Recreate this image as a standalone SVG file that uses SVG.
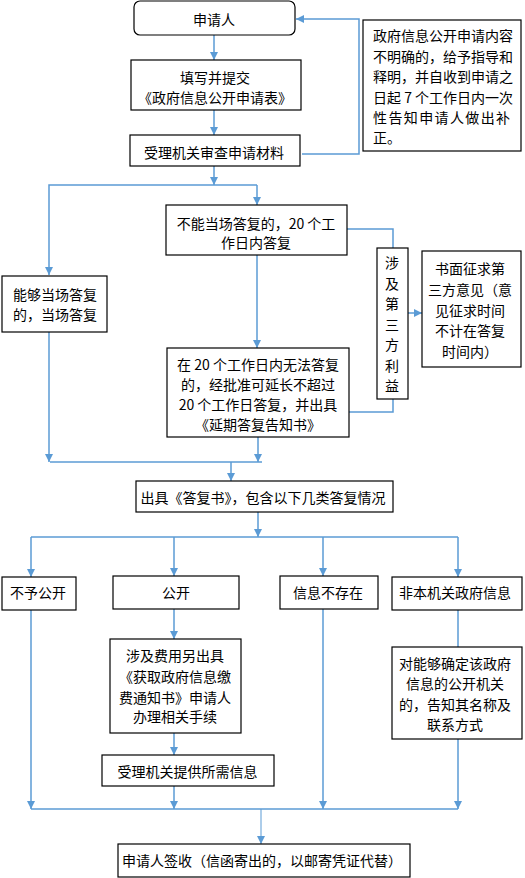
<svg xmlns="http://www.w3.org/2000/svg" width="525" height="878" viewBox="0 0 525 878">
<style>
.box{fill:#fff;stroke:#000;stroke-width:1.2}
text{font-family:"Noto Sans CJK SC","Noto Sans",sans-serif;font-size:14px;fill:#000;dominant-baseline:central}
.c{text-anchor:middle}
.ln{fill:none;stroke:#5b9bd5;stroke-width:1.5}
.thin{stroke-width:1}
</style>
<defs>
<marker id="ah" markerUnits="userSpaceOnUse" markerWidth="8" markerHeight="8" refX="8" refY="4" orient="auto">
<path d="M0,0 L8,4 L0,8 z" fill="#5b9bd5"/>
</marker>
</defs>
<rect width="525" height="878" fill="#fff"/>
<g id="connectors">
<path class="ln" d="M214,35 V60" marker-end="url(#ah)"/>
<path class="ln" d="M214,110 V135" marker-end="url(#ah)"/>
<path class="ln" d="M302,154 H359 V19 H296" marker-end="url(#ah)"/>
<path class="ln" d="M214,166 V185" marker-end="url(#ah)"/>
<path class="ln" d="M257,185 H49 V275" marker-end="url(#ah)"/>
<path class="ln" d="M257,185 V205" marker-end="url(#ah)"/>
<path class="ln" d="M347,229 H393 V248"/>
<path class="ln" d="M408,313 H422" marker-end="url(#ah)"/>
<path class="ln" d="M257,255 V348" marker-end="url(#ah)"/>
<path class="ln" d="M393,399 V412 H349"/>
<path class="ln" d="M49,332 V462" marker-end="url(#ah)"/>
<path class="ln" d="M258,437 V462" marker-end="url(#ah)"/>
<path class="ln" d="M50,462 H262"/>
<path class="ln" d="M231,462 V481" marker-end="url(#ah)"/>
<path class="ln" d="M258,512 V537" marker-end="url(#ah)"/>
<path class="ln" d="M31,537 H458"/>
<path class="ln" d="M31,537 V577" marker-end="url(#ah)"/>
<path class="ln" d="M174,537 V576" marker-end="url(#ah)"/>
<path class="ln" d="M323,537 V576" marker-end="url(#ah)"/>
<path class="ln" d="M458,537 V577" marker-end="url(#ah)"/>
<path class="ln" d="M174,609 V639" marker-end="url(#ah)"/>
<path class="ln" d="M174,733 V755" marker-end="url(#ah)"/>
<path class="ln" d="M174,786 V809" marker-end="url(#ah)"/>
<path class="ln" d="M31,610 V809" marker-end="url(#ah)"/>
<path class="ln" d="M323,609 V809" marker-end="url(#ah)"/>
<path class="ln" d="M458,610 V647"/>
<path class="ln" d="M458,739 V809" marker-end="url(#ah)"/>
<path class="ln" d="M31,809 H458"/>
<path class="ln thin" d="M261,809 V844" marker-end="url(#ah)"/>
</g>
<g id="n-applicant">
<rect class="box" x="134" y="1" width="161" height="34" rx="6"/>
<text class="c" x="214" y="19">申请人</text>
</g>
<g id="n-fill">
<rect class="box" x="131" y="60" width="170" height="50"/>
<text class="c" x="215" y="77">填写并提交</text>
<text class="c" x="215" y="97">《政府信息公开申请表》</text>
</g>
<g id="n-review">
<rect class="box" x="130" y="135" width="170" height="31"/>
<text class="c" x="214" y="152">受理机关审查申请材料</text>
</g>
<g id="n-note">
<rect class="box" x="363" y="20" width="158" height="131"/>
<text x="373" y="35">政府信息公开申请内容</text>
<text x="373" y="55.5">不明确的，给予指导和</text>
<text x="373" y="76">释明，并自收到申请之</text>
<text x="373" y="96.5">日起 7 个工作日内一次</text>
<text x="373" y="117" textLength="137" lengthAdjust="spacing">性告知申请人做出补</text>
<text x="373" y="137">正。</text>
</g>
<g id="n-cannot">
<rect class="box" x="166" y="205" width="181" height="50"/>
<text class="c" x="256" y="223">不能当场答复的，20 个工</text>
<text class="c" x="256" y="242">作日内答复</text>
</g>
<g id="n-third">
<rect class="box" x="377" y="248" width="31" height="151"/>
<text class="c" x="392" y="262">涉</text>
<text class="c" x="392" y="282.5">及</text>
<text class="c" x="392" y="303">第</text>
<text class="c" x="392" y="323.5">三</text>
<text class="c" x="392" y="344">方</text>
<text class="c" x="392" y="364.5">利</text>
<text class="c" x="392" y="385">益</text>
</g>
<g id="n-written">
<rect class="box" x="422" y="251" width="99" height="116"/>
<text class="c" x="470" y="268">书面征求第</text>
<text class="c" x="470" y="289">三方意见（意</text>
<text class="c" x="470" y="309.5">见征求时间</text>
<text class="c" x="470" y="330">不计在答复</text>
<text class="c" x="470" y="350.5">时间内）</text>
</g>
<g id="n-can">
<rect class="box" x="2" y="276" width="105" height="56"/>
<text x="13" y="294">能够当场答复</text>
<text x="13" y="313.5">的，当场答复</text>
</g>
<g id="n-extend">
<rect class="box" x="167" y="348" width="182" height="89"/>
<text class="c" x="258" y="363.5">在 20 个工作日内无法答复</text>
<text class="c" x="258" y="384">的，经批准可延长不超过</text>
<text class="c" x="258" y="404">20 个工作日答复，并出具</text>
<text class="c" x="258" y="424">《延期答复告知书》</text>
</g>
<g id="n-reply">
<rect class="box" x="136" y="481" width="257" height="31"/>
<text class="c" x="263" y="497">出具《答复书》，包含以下几类答复情况</text>
</g>
<g id="n-notpublic">
<rect class="box" x="2" y="577" width="74" height="33"/>
<text class="c" x="38" y="592">不予公开</text>
</g>
<g id="n-public">
<rect class="box" x="113" y="576" width="126" height="33"/>
<text class="c" x="176" y="592">公开</text>
</g>
<g id="n-notexist">
<rect class="box" x="280" y="576" width="98" height="33"/>
<text class="c" x="328" y="592">信息不存在</text>
</g>
<g id="n-notours">
<rect class="box" x="392" y="577" width="130" height="33"/>
<text class="c" x="455" y="592">非本机关政府信息</text>
</g>
<g id="n-fee">
<rect class="box" x="110" y="639" width="131" height="94"/>
<text class="c" x="175" y="655">涉及费用另出具</text>
<text class="c" x="175" y="676">《获取政府信息缴</text>
<text class="c" x="175" y="696.5">费通知书》申请人</text>
<text class="c" x="175" y="716">办理相关手续</text>
</g>
<g id="n-provide">
<rect class="box" x="102" y="755" width="172" height="31"/>
<text class="c" x="187.5" y="771">受理机关提供所需信息</text>
</g>
<g id="n-inform">
<rect class="box" x="392" y="647" width="130" height="92"/>
<text class="c" x="455" y="663">对能够确定该政府</text>
<text class="c" x="455" y="683">信息的公开机关</text>
<text class="c" x="455" y="703.5">的，告知其名称及</text>
<text class="c" x="455" y="723.5">联系方式</text>
</g>
<g id="n-sign">
<rect class="box" x="118" y="844" width="292" height="33"/>
<text class="c" x="262" y="860">申请人签收（信函寄出的，以邮寄凭证代替）</text>
</g>
</svg>
